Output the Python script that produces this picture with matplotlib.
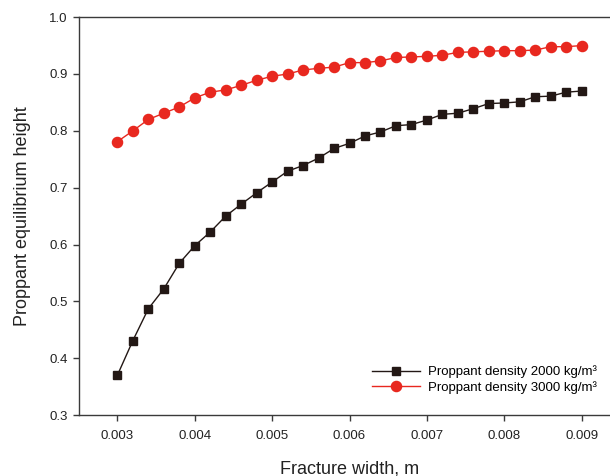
import numpy as np
import matplotlib.pyplot as plt

plt.switch_backend("Agg")
plt.rcParams["font.family"] = ["Liberation Sans", "DejaVu Sans"]

# Fracture width, m (0.003 .. 0.009, step 0.0002)
width = [0.0030, 0.0032, 0.0034, 0.0036, 0.0038, 0.0040, 0.0042, 0.0044,
         0.0046, 0.0048, 0.0050, 0.0052, 0.0054, 0.0056, 0.0058, 0.0060,
         0.0062, 0.0064, 0.0066, 0.0068, 0.0070, 0.0072, 0.0074, 0.0076,
         0.0078, 0.0080, 0.0082, 0.0084, 0.0086, 0.0088, 0.0090]

height_2000 = [0.370, 0.431, 0.487, 0.522, 0.567, 0.598, 0.622, 0.650,
               0.671, 0.691, 0.710, 0.729, 0.739, 0.752, 0.769, 0.778,
               0.791, 0.798, 0.809, 0.811, 0.819, 0.829, 0.831, 0.839,
               0.848, 0.849, 0.851, 0.860, 0.861, 0.868, 0.870]

height_3000 = [0.781, 0.800, 0.820, 0.831, 0.842, 0.858, 0.868, 0.872,
               0.880, 0.889, 0.896, 0.900, 0.907, 0.910, 0.912, 0.920,
               0.920, 0.923, 0.929, 0.930, 0.931, 0.933, 0.938, 0.939,
               0.940, 0.941, 0.941, 0.942, 0.948, 0.948, 0.950]

labels = ["Proppant density 2000 kg/m³", "Proppant density 3000 kg/m³"]

fig = plt.figure(figsize=(6.1, 4.76), dpi=100)
ax = fig.add_axes([0.129, 0.128, 0.888, 0.836])

ax.plot(width, height_2000, color="#231815", lw=1.0, marker="s",
        ms=6.3, label=labels[0])
ax.plot(width, height_3000, color="#e8281f", lw=1.0, marker="o",
        ms=7.3, label=labels[1])

ax.set_xlim(0.0025, 0.0095)
ax.set_ylim(0.3, 1.0)
ax.set_xticks(np.arange(0.003, 0.00901, 0.001))
ax.set_xticklabels([f"{v:.3f}" for v in np.arange(0.003, 0.00901, 0.001)])
ax.set_yticks(np.arange(0.3, 1.001, 0.1))
ax.set_yticklabels([f"{v:.1f}" for v in np.arange(0.3, 1.001, 0.1)])

spine_color = "#3a3a3a"
for name, sp in ax.spines.items():
    sp.set_color(spine_color)
    sp.set_linewidth(1.0)
ax.spines["right"].set_visible(False)
ax.tick_params(direction="out", length=4, width=1.0, color=spine_color,
               labelsize=9.5, labelcolor="#222222")
ax.tick_params(axis="x", pad=7)
ax.tick_params(axis="y", pad=4)

ax.set_xlabel("Fracture width, m", fontsize=13, color="#222222", labelpad=13)
ax.set_ylabel("Proppant equilibrium height", fontsize=13, color="#222222",
              labelpad=13)

ax.legend(loc="upper left", bbox_to_anchor=(0.61, 0.232),
          bbox_transform=fig.transFigure, frameon=False, fontsize=9.5,
          handlelength=3.6, handletextpad=0.6, labelspacing=0.2,
          borderpad=0, borderaxespad=0)

fig.savefig("out.png", dpi=100)
